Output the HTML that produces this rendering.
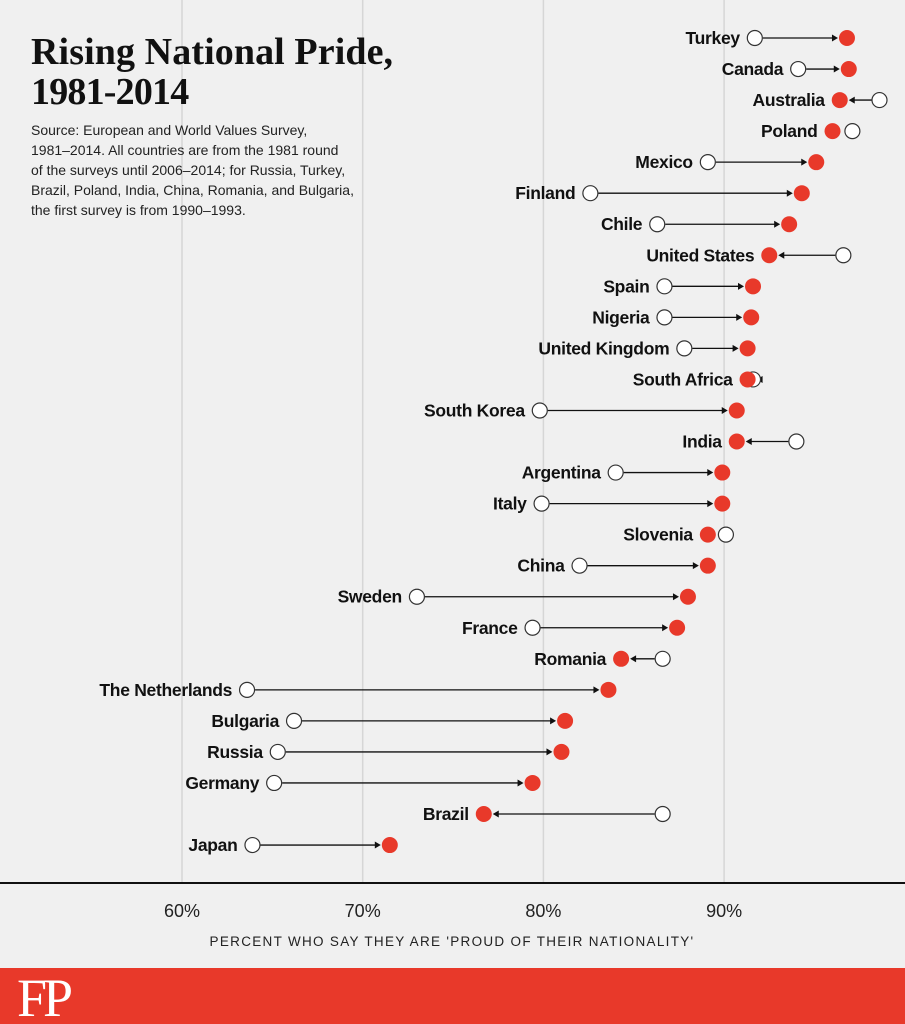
<!DOCTYPE html>
<html><head><meta charset="utf-8">
<style>
body{margin:0;background:#f0f0f0;}
svg{display:block;}
</style></head>
<body>
<svg id="chart" width="905" height="1024" xmlns="http://www.w3.org/2000/svg">
<rect width="905" height="1024" fill="#f0f0f0"/>
<g id="grid"></g>
<text x="31" y="64" font-family="Liberation Serif, serif" font-weight="bold" font-size="38" fill="#111" letter-spacing="0.1">Rising National Pride,</text>
<text x="31" y="104" font-family="Liberation Serif, serif" font-weight="bold" font-size="38" fill="#111" letter-spacing="-0.8">1981-2014</text>
<g font-family="Liberation Sans, sans-serif" font-size="14" fill="#222">
<text x="31" y="135">Source: European and World Values Survey,</text>
<text x="31" y="155">1981–2014. All countries are from the 1981 round</text>
<text x="31" y="175">of the surveys until 2006–2014; for Russia, Turkey,</text>
<text x="31" y="195">Brazil, Poland, India, China, Romania, and Bulgaria,</text>
<text x="31" y="215">the first survey is from 1990–1993.</text>
</g>
<g id="rows"></g>
<line x1="0" x2="905" y1="883" y2="883" stroke="#111" stroke-width="2"/>
<g id="ticks"></g>
<text x="452" y="946" text-anchor="middle" font-family="Liberation Sans, sans-serif" font-size="13.5" letter-spacing="1.3" fill="#222">PERCENT WHO SAY THEY ARE 'PROUD OF THEIR NATIONALITY'</text>
<rect x="0" y="968" width="905" height="56" fill="#e8392a"/>
<text x="17" y="1016" font-family="Liberation Serif, serif" font-size="54" fill="#fff" letter-spacing="-4">FP</text>
</svg>
<script>
const countries=["Turkey","Canada","Australia","Poland","Mexico","Finland","Chile","United States","Spain","Nigeria","United Kingdom","South Africa","South Korea","India","Argentina","Italy","Slovenia","China","Sweden","France","Romania","The Netherlands","Bulgaria","Russia","Germany","Brazil","Japan"];
const firstSurvey=[91.7,94.1,98.6,97.1,89.1,82.6,86.3,96.6,86.7,86.7,87.8,91.6,79.8,94.0,84.0,79.9,90.1,82.0,73.0,79.4,86.6,63.6,66.2,65.3,65.1,86.6,63.9];
const lastSurvey=[96.8,96.9,96.4,96.0,95.1,94.3,93.6,92.5,91.6,91.5,91.3,91.3,90.7,90.7,89.9,89.9,89.1,89.1,88.0,87.4,84.3,83.6,81.2,81.0,79.4,76.7,71.5];
const tickValues=[60,70,80,90];
const tickLabels=["60%","70%","80%","90%"];
const NS="http://www.w3.org/2000/svg";
const xS=v=>182+(v-60)*18.07;
const yS=i=>38+i*31.04;
function mk(tag,attrs,parent){const e=document.createElementNS(NS,tag);for(const k in attrs)e.setAttribute(k,attrs[k]);parent.appendChild(e);return e;}
const grid=document.getElementById('grid'),ticks=document.getElementById('ticks'),rows=document.getElementById('rows');
tickValues.forEach((v,i)=>{
 const l=mk('line',{x1:xS(v),x2:xS(v),y1:0,y2:883,stroke:'#d6d6d6','stroke-width':1.5},grid);
 
 
 const t=mk('text',{x:xS(v),y:917,'text-anchor':'middle','font-family':'Liberation Sans, sans-serif','font-size':18,fill:'#222'},ticks);
 t.textContent=tickLabels[i];
 
 
});
const r=8;
countries.forEach((c,i)=>{
 const g=mk('g',{},rows);
 
 
 const y=yS(i),x0=xS(firstSurvey[i]),x1=xS(lastSurvey[i]);
 const dir=x1>x0?1:-1;
 const start=x0+dir*r, end=x1-dir*(r+1);
 if(Math.abs(end-start)>6){
  const ln=mk('line',{x1:start,x2:end-dir*5,y1:y,y2:y,stroke:'#111','stroke-width':1.3},g);
  
  
  const ah=mk('path',{d:`M${end},${y} L${end-dir*6},${y-3.5} L${end-dir*6},${y+3.5} Z`,fill:'#111'},g);
  
  
 }
 const o=mk('circle',{cx:x0,cy:y,r:r-0.5,fill:'#fff',stroke:'#333','stroke-width':1.2},g);
 
 
 const f=mk('circle',{cx:x1,cy:y,r:r,fill:'#e8392a'},g);
 
 
 const t=mk('text',{x:Math.min(x0,x1)-r-7,y:y+6,'text-anchor':'end','font-family':'Liberation Sans Narrow, Liberation Sans, sans-serif','font-weight':'bold','font-size':17.5,fill:'#111','letter-spacing':'-0.3'},g);
 t.textContent=c;
 
 
});
</script>
</body></html>
